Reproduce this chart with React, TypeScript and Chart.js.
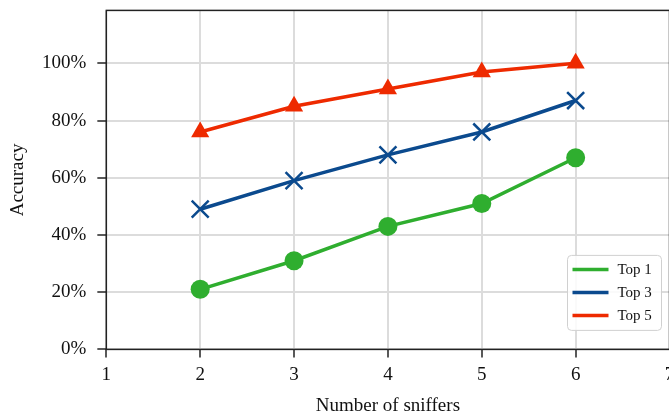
import React, { useEffect, useRef } from "react";
import { Chart, registerables } from "chart.js";

Chart.register(...registerables);

const sniffers = [2, 3, 4, 5, 6];
const top1 = [21, 31, 43, 51, 67];
const top3 = [49, 59, 68, 76, 87];
const top5 = [76, 85, 91, 97, 100];
const yTicks = [0, 20, 40, 60, 80, 100];
const xTicks = [1, 2, 3, 4, 5, 6, 7];

const GREEN = "#2fae2f";
const BLUE = "#0b4a8e";
const RED = "#ee2a00";
const FONT = "'Liberation Serif', 'DejaVu Serif', serif";

const frameAndLegend = {
  id: "frameAndLegend",
  afterDraw(chart: any) {
    const { ctx, chartArea } = chart;
    const { left, top, right, bottom } = chartArea;
    ctx.save();
    ctx.strokeStyle = "#222";
    ctx.lineWidth = 1.5;
    ctx.strokeRect(left, top, right - left, bottom - top);

    // legend box
    const bw = 94;
    const bh = 75;
    const bx = right - 8 - bw;
    const by = bottom - 19 - bh;
    const r = 4;
    ctx.beginPath();
    ctx.moveTo(bx + r, by);
    ctx.lineTo(bx + bw - r, by);
    ctx.quadraticCurveTo(bx + bw, by, bx + bw, by + r);
    ctx.lineTo(bx + bw, by + bh - r);
    ctx.quadraticCurveTo(bx + bw, by + bh, bx + bw - r, by + bh);
    ctx.lineTo(bx + r, by + bh);
    ctx.quadraticCurveTo(bx, by + bh, bx, by + bh - r);
    ctx.lineTo(bx, by + r);
    ctx.quadraticCurveTo(bx, by, bx + r, by);
    ctx.closePath();
    ctx.fillStyle = "rgba(255,255,255,0.85)";
    ctx.fill();
    ctx.strokeStyle = "#d0d0d0";
    ctx.lineWidth = 1;
    ctx.stroke();

    chart.data.datasets.forEach((ds: any, i: number) => {
      const y = by + 14 + i * 23;
      ctx.strokeStyle = ds.borderColor;
      ctx.lineWidth = 3.5;
      ctx.beginPath();
      ctx.moveTo(bx + 5, y);
      ctx.lineTo(bx + 41, y);
      ctx.stroke();
      ctx.fillStyle = "#111";
      ctx.font = `15px ${FONT}`;
      ctx.textBaseline = "middle";
      ctx.textAlign = "left";
      ctx.fillText(ds.label, bx + 50, y + 1);
    });
    ctx.restore();
  },
};

export default function App() {
  const ref = useRef<HTMLCanvasElement | null>(null);

  useEffect(() => {
    if (!ref.current) return;
    const mk = (arr: number[]) => sniffers.map((x, i) => ({ x, y: arr[i] }));
    const chart = new Chart(ref.current, {
      type: "line",
      data: {
        datasets: [
          {
            label: "Top 1",
            data: mk(top1),
            borderColor: GREEN,
            backgroundColor: GREEN,
            borderWidth: 3.5,
            pointStyle: "circle",
            pointRadius: 9.5,
            pointBorderWidth: 0,
          },
          {
            label: "Top 3",
            data: mk(top3),
            borderColor: BLUE,
            backgroundColor: BLUE,
            borderWidth: 3.5,
            pointStyle: "crossRot",
            pointRadius: 12,
            pointBorderWidth: 2.5,
          },
          {
            label: "Top 5",
            data: mk(top5),
            borderColor: RED,
            backgroundColor: RED,
            borderWidth: 3.5,
            pointStyle: "triangle",
            pointRadius: 10.5,
            pointBorderWidth: 0,
          },
        ] as any,
      },
      options: {
        animation: false,
        responsive: true,
        maintainAspectRatio: false,
        layout: { padding: { top: 0, left: 2, right: 0, bottom: 1 } },
        plugins: {
          legend: { display: false },
          tooltip: { enabled: false },
        },
        scales: {
          x: {
            type: "linear",
            min: 1,
            max: 7,
            afterBuildTicks: (s: any) => {
              s.ticks = xTicks.map((v) => ({ value: v }));
            },
            grid: {
              color: "#dcdcdc",
              lineWidth: 2,
              tickColor: "#222",
              tickLength: 8,
              tickWidth: 1.5,
            } as any,
            border: { display: false },
            ticks: {
              color: "#111",
              font: { family: FONT, size: 19 },
              padding: 6,
              maxRotation: 0,
            },
            title: {
              display: true,
              text: "Number of sniffers",
              color: "#111",
              font: { family: FONT, size: 19 },
              padding: { top: 2, bottom: 0 },
            },
          },
          y: {
            type: "linear",
            min: 0,
            max: 118.5,
            afterBuildTicks: (s: any) => {
              s.ticks = yTicks.map((v) => ({ value: v }));
            },
            grid: {
              color: "#dcdcdc",
              lineWidth: 2,
              tickColor: "#222",
              tickLength: 9,
              tickWidth: 1.5,
            } as any,
            border: { display: false },
            ticks: {
              color: "#111",
              font: { family: FONT, size: 19 },
              padding: 11,
              callback: (v: any) => `${v}%`,
            },
            title: {
              display: true,
              text: "Accuracy",
              color: "#111",
              font: { family: FONT, size: 19 },
              padding: { top: 4.6, bottom: 1.6 },
            },
          },
        },
      },
      plugins: [frameAndLegend],
    });
    return () => chart.destroy();
  }, []);

  return (
    <div
      style={{
        position: "fixed",
        left: 0,
        top: 0,
        width: 669,
        height: 418,
        overflow: "hidden",
        background: "#fff",
      }}
    >
      <div style={{ position: "absolute", left: 0, top: -12, width: 684, height: 430 }}>
        <canvas ref={ref} />
      </div>
    </div>
  );
}
